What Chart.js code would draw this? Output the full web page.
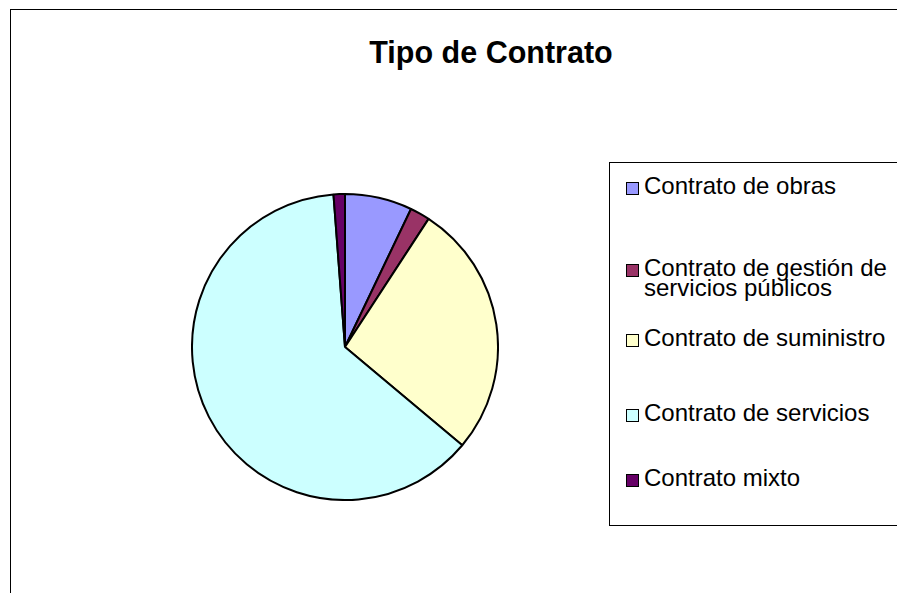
<!DOCTYPE html>
<html>
<head>
<meta charset="utf-8">
<script src="https://cdn.jsdelivr.net/npm/chart.js@4/dist/chart.umd.min.js"></script>
<style>
  html, body { margin: 0; padding: 0; background: #fff; }
  body { width: 897px; height: 593px; position: relative; overflow: hidden; font-family: "Liberation Sans", Arial, sans-serif; }
  #frame { position: absolute; left: 10px; top: 9px; width: 900px; height: 600px; border-left: 1.5px solid #000; border-top: 1.5px solid #000; }
  #title { position: absolute; left: 0; width: 982px; top: 34px; text-align: center; font-weight: bold; font-size: 30.5px; line-height: 36px; color: #000; }
  #pie-wrap { position: absolute; left: 191px; top: 193px; width: 308px; height: 308px; }
  #legend { position: absolute; left: 609px; top: 162px; width: 300px; height: 362px; border: 1.2px solid #000; }
  .item { position: absolute; left: 16px; width: 275px; display: flex; align-items: flex-start; }
  .sw { width: 11px; height: 11px; border: 1.5px solid #000; margin-top: 6px; flex: none; }
  .txt { margin-left: 5px; font-size: 24px; line-height: 20px; color: #000; width: 255px; }
</style>
</head>
<body>
<div id="frame"></div>
<div id="title">Tipo de Contrato</div>
<div id="pie-wrap"><canvas id="pie"></canvas></div>
<div id="legend"></div>
<script>
const labels = ['Contrato de obras', 'Contrato de gestión de servicios públicos', 'Contrato de suministro', 'Contrato de servicios', 'Contrato mixto'];
const values = [7.1, 2.1, 26.9, 62.7, 1.2];
const colors = ['#9999FF', '#993366', '#FFFFCC', '#CCFFFF', '#660066'];

// vertical centre of each legend row (first text line), relative to legend box
const rowY = [23, 105, 175, 250, 315];

new Chart(document.getElementById('pie'), {
    type: 'pie',
    data: { labels: labels, datasets: [{ data: values, backgroundColor: colors, borderColor: '#000', borderWidth: 2 }] },
    options: {
        responsive: true, maintainAspectRatio: false, animation: false,
        layout: { padding: 0 },
        plugins: { legend: { display: false }, tooltip: { enabled: false }, title: { display: false } }
    }
});

const legend = document.getElementById('legend');
labels.forEach((l, i) => {
    const row = document.createElement('div');
    row.className = 'item';
    row.style.top = (rowY[i] - 10) + 'px';
    row.innerHTML = '<div class="sw" style="background:' + colors[i] + '"></div><div class="txt">' + l + '</div>';
    legend.appendChild(row);
});
</script>
</body>
</html>
